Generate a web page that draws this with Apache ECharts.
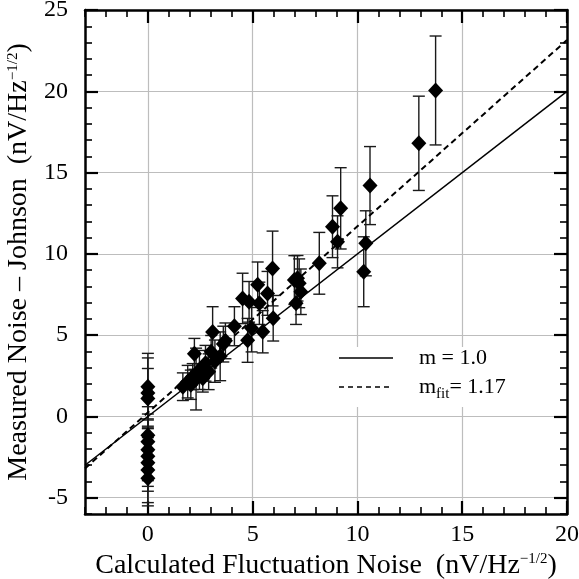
<!DOCTYPE html>
<html><head><meta charset="utf-8">
<script src="https://cdn.jsdelivr.net/npm/echarts@6/dist/echarts.min.js"></script>
<style>html,body{margin:0;padding:0;background:#fff}#c{width:579px;height:579px}</style>
</head><body><div id="c"></div>
<script>
const xTicks = [0, 5, 10, 15, 20];
const yTicks = [-5, 0, 5, 10, 15, 20, 25];
const ptX = [0, 0, 0, 0, 0, 0, 0, 0, 0, 0,
  1.67, 1.9, 2.05, 2.14, 2.22, 2.3, 2.46, 2.62, 2.75, 2.9,
  3.02, 3.09, 3.2, 3.45, 3.6, 3.7, 4.13, 4.52, 4.76, 4.83,
  4.95, 5.24, 5.32, 5.48, 5.71, 5.95, 5.98, 6.99, 7.07, 7.14,
  7.22, 7.3, 8.18, 8.81, 9.05, 9.2, 10.3, 10.4, 10.6, 12.93, 13.73];
const ptY = [1.83, 1.45, 1.1, -1.15, -1.55, -2.05, -2.45, -2.85, -3.3, -3.8,
  1.83, 2.14, 1.95, 2.45, 3.85, 2.3, 2.86, 2.35, 3.27, 2.75,
  3.98, 5.2, 3.4, 3.7, 4.45, 4.65, 5.55, 7.26, 4.68, 7.05,
  5.42, 8.1, 6.96, 5.21, 7.57, 9.1, 6.04, 8.39, 6.96, 8.5,
  8.19, 7.67, 9.42, 11.67, 10.74, 12.8, 8.9, 10.65, 14.2, 16.8, 20.05];
const ptErr = [2.05, 2.15, 1.85, 1.75, 1.7, 1.9, 1.85, 1.75, 2.0, 1.7,
  0.85, 1.0, 0.9, 0.8, 0.95, 1.9, 1.2, 0.85, 1.1, 1.1,
  1.0, 1.55, 1.3, 1.5, 1.1, 1.1, 1.2, 1.55, 1.35, 1.25,
  1.45, 1.4, 1.3, 1.3, 1.35, 2.3, 1.4, 1.5, 1.3, 1.4,
  1.5, 1.4, 1.9, 1.9, 1.6, 2.5, 2.15, 2.0, 2.4, 2.9, 3.35];
const unityLine = [[-3, -3], [20, 20]];
const fitLine = [[-3, -3.2], [20, 23.15]];

const FONT = 'Liberation Serif';
const points = ptX.map((x, i) => [x, ptY[i]]);
const bars = ptX.map((x, i) => [x, ptY[i] - ptErr[i], ptY[i] + ptErr[i]]);

function mkX(position, major, showLabel, name) {
  const a = {
    type: 'value', min: -3, max: 20, position: position, offset: 0,
    axisLine: { show: major, onZero: false, lineStyle: { color: '#000', width: 2.5 } },
    axisTick: { show: true, inside: true, length: major ? 13 : 7,
      lineStyle: { color: '#000', width: major ? 2.2 : 1.6 } },
    axisLabel: { show: showLabel, color: '#000', fontFamily: FONT, fontSize: 24, margin: 9 },
    splitLine: { show: major && showLabel, lineStyle: { color: '#bdbdbd', width: 1.2 } }
  };
  if (major) { a.axisTick.customValues = xTicks; a.axisLabel.customValues = xTicks; }
  else { a.interval = 1; }
  if (name) {
    a.name = name; a.nameLocation = 'middle'; a.nameGap = 27;
    a.nameTextStyle = { color: '#000', fontFamily: FONT, fontSize: 28,
      rich: { sup: { fontFamily: FONT, fontSize: 15, verticalAlign: 'top', color: '#000' } } };
  }
  return a;
}
function mkY(position, major, showLabel, name) {
  const a = {
    type: 'value', min: -6, max: 25, position: position, offset: 0,
    axisLine: { show: major, onZero: false, lineStyle: { color: '#000', width: 2.5 } },
    axisTick: { show: true, inside: true, length: major ? 13 : 7,
      lineStyle: { color: '#000', width: major ? 2.2 : 1.6 } },
    axisLabel: { show: showLabel, color: '#000', fontFamily: FONT, fontSize: 24, margin: 17 },
    splitLine: { show: major && showLabel, lineStyle: { color: '#bdbdbd', width: 1.2 } }
  };
  if (major) { a.axisTick.customValues = yTicks; a.axisLabel.customValues = yTicks; }
  else { a.interval = 1; }
  if (name) {
    a.name = name; a.nameLocation = 'middle'; a.nameGap = 44;
    a.nameTextStyle = { color: '#000', fontFamily: FONT, fontSize: 28,
      rich: { sup: { fontFamily: FONT, fontSize: 15, verticalAlign: 'top', color: '#000' } } };
  }
  return a;
}

const chart = echarts.init(document.getElementById('c'));
chart.setOption({
  animation: false,
  backgroundColor: '#fff',
  grid: { left: 85, right: 12, top: 10, bottom: 65, containLabel: false, outerBoundsMode: 'none' },
  xAxis: [
    mkX('bottom', true, true, 'Calculated Fluctuation Noise  (nV/Hz{sup|\u22121/2})'),
    mkX('bottom', false, false),
    mkX('top', true, false),
    mkX('top', false, false)
  ],
  yAxis: [
    mkY('left', true, true, 'Measured Noise \u2013 Johnson  (nV/Hz{sup|\u22121/2})'),
    mkY('left', false, false),
    mkY('right', true, false),
    mkY('right', false, false)
  ],
  graphic: [
    { type: 'rect', z: 5, shape: { x: 335, y: 347, width: 200, height: 60 }, style: { fill: '#fff' } },
    { type: 'line', z: 6, shape: { x1: 339, y1: 358, x2: 393, y2: 358 }, style: { stroke: '#000', lineWidth: 1.5 } },
    { type: 'line', z: 6, shape: { x1: 339, y1: 387, x2: 393, y2: 387 }, style: { stroke: '#000', lineWidth: 1.5, lineDash: [5, 4] } },
    { type: 'text', z: 6, x: 419, y: 358, style: { text: 'm = 1.0', fontFamily: FONT, fontSize: 22, fill: '#000', verticalAlign: 'middle' } },
    { type: 'text', z: 6, x: 419, y: 387, style: { text: 'm{sub|fit}= 1.17', fontFamily: FONT, fontSize: 22, fill: '#000', verticalAlign: 'middle',
      rich: { sub: { fontFamily: FONT, fontSize: 15, verticalAlign: 'bottom', padding: [14, 0, 0, 0], fill: '#000' } } } }
  ],
  series: [
    {
      type: 'custom', xAxisIndex: 0, yAxisIndex: 0, data: bars, z: 3,
      encode: { x: 0, y: [1, 2] },
      renderItem: function (params, api) {
        const x = api.value(0), lo = api.value(1), hi = api.value(2);
        const p1 = api.coord([x, lo]), p2 = api.coord([x, hi]);
        const w = 6;
        const st = { stroke: '#1a1a1a', lineWidth: 1.4 };
        return { type: 'group', children: [
          { type: 'line', shape: { x1: p1[0], y1: p1[1], x2: p2[0], y2: p2[1] }, style: st },
          { type: 'line', shape: { x1: p1[0] - w, y1: p1[1], x2: p1[0] + w, y2: p1[1] }, style: st },
          { type: 'line', shape: { x1: p2[0] - w, y1: p2[1], x2: p2[0] + w, y2: p2[1] }, style: st }
        ] };
      }
    },
    { type: 'line', xAxisIndex: 0, yAxisIndex: 0, data: unityLine, showSymbol: false, z: 4,
      lineStyle: { color: '#000', width: 1.5 } },
    { type: 'line', xAxisIndex: 0, yAxisIndex: 0, data: fitLine, showSymbol: false, z: 4,
      lineStyle: { color: '#000', width: 2, type: [6, 4] } },
    { type: 'scatter', xAxisIndex: 0, yAxisIndex: 0, data: points, z: 5,
      symbol: 'diamond', symbolSize: [15, 16], itemStyle: { color: '#000', opacity: 1 } }
  ]
});
</script></body></html>
